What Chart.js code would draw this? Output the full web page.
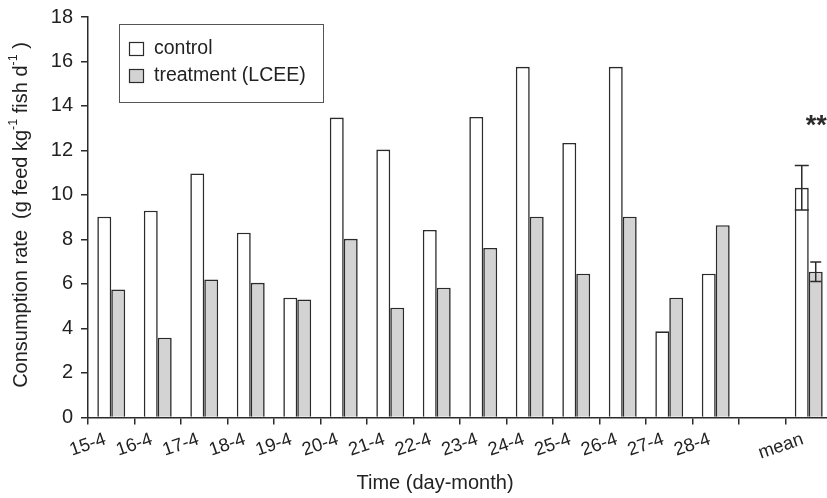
<!DOCTYPE html>
<html>
<head>
<meta charset="utf-8">
<script src="https://cdn.jsdelivr.net/npm/chart.js@4.4.1/dist/chart.umd.min.js"></script>
<style>
  html, body { margin: 0; padding: 0; background: #fff; }
  #wrap { width: 827px; height: 498px; overflow: hidden; position: relative; }
  canvas { display: block; }
</style>
</head>
<body>
<div id="wrap"><canvas id="c" width="850" height="498" style="width:850px;height:498px"></canvas></div>
<script>
// ---- data ----
const categories = ['15-4','16-4','17-4','18-4','19-4','20-4','21-4','22-4','23-4','24-4','25-4','26-4','27-4','28-4','','mean'];
const controlValues   = [9.02, 9.29, 10.97, 8.30, 5.38, 13.48, 12.04, 8.43, 13.51, 15.76, 12.34, 15.76, 3.87, 6.46, null, 10.32];
const treatmentValues = [5.75, 3.58, 6.20, 6.05, 5.30, 8.03, 4.93, 5.83, 7.62, 9.02, 6.46, 9.02, 5.38, 8.64, null, 6.55];
const controlErrors   = [null,null,null,null,null,null,null,null,null,null,null,null,null,null,null, 1.0];
const treatmentErrors = [null,null,null,null,null,null,null,null,null,null,null,null,null,null,null, 0.44];
const yTicks = [0,2,4,6,8,10,12,14,16,18];
const seriesLabels = ['control', 'treatment (LCEE)'];
const significance = '**';
const xTitle = 'Time (day-month)';
const yTitleParts = [['Consumption rate  (g feed kg', false], ['-1', true], [' fish d', false], ['-1', true], [' )', false]];

const FONT = '"Liberation Sans", Arial, Helvetica, sans-serif';
const INK = '#2b2b2b';

const errorBarPlugin = {
  id: 'errorBars',
  afterDatasetsDraw(chart) {
    const ctx = chart.ctx;
    const y = chart.scales.y;
    const errs = [controlErrors, treatmentErrors];
    ctx.save();
    ctx.strokeStyle = INK;
    ctx.lineWidth = 1.5;
    chart.data.datasets.forEach((ds, di) => {
      const meta = chart.getDatasetMeta(di);
      meta.data.forEach((bar, i) => {
        const e = errs[di][i];
        const v = ds.data[i];
        if (e == null || v == null) return;
        const x = bar.x;
        const top = y.getPixelForValue(v + e);
        const bot = y.getPixelForValue(v - e);
        const half = di === 0 ? 7 : 5.5;
        ctx.beginPath();
        ctx.moveTo(x, top); ctx.lineTo(x, bot);
        ctx.moveTo(x - half, top); ctx.lineTo(x + half, top);
        ctx.moveTo(x - half, bot); ctx.lineTo(x + half, bot);
        ctx.stroke();
      });
    });
    // significance stars above the mean group
    const meanIdx = categories.indexOf('mean');
    const xPix = chart.scales.x.getPixelForValue(meanIdx);
    ctx.fillStyle = INK;
    ctx.font = 'bold 27px ' + FONT;
    ctx.textAlign = 'left';
    ctx.textBaseline = 'alphabetic';
    ctx.fillText(significance, xPix - 3, y.getPixelForValue(13.2) + 10);
    ctx.restore();
  },
  afterDraw(chart) {
    const ctx = chart.ctx;
    ctx.save();
    // legend
    ctx.strokeStyle = '#555';
    ctx.lineWidth = 1;
    ctx.strokeRect(119.5, 24.5, 204, 78);
    ctx.font = '19.5px ' + FONT;
    ctx.textBaseline = 'middle';
    ctx.textAlign = 'left';
    chart.data.datasets.forEach((ds, i) => {
      const yy = 42 + i * 27;
      ctx.fillStyle = ds.backgroundColor;
      ctx.fillRect(129.5, yy + 0.5, 14, 13);
      ctx.strokeStyle = INK;
      ctx.lineWidth = 1.2;
      ctx.strokeRect(129.5, yy + 0.5, 14, 13);
      ctx.fillStyle = '#222';
      ctx.fillText(ds.label, 154, yy + 7);
    });
    // x title
    ctx.font = '20px ' + FONT;
    ctx.textAlign = 'center';
    ctx.fillStyle = '#222';
    ctx.fillText(xTitle, 435, 483);
    // y title with superscripts
    ctx.translate(21, 215);
    ctx.rotate(-Math.PI / 2);
    const mainFont = '20px ' + FONT, supFont = '12.5px ' + FONT;
    let total = 0;
    yTitleParts.forEach(([t, sup]) => { ctx.font = sup ? supFont : mainFont; total += ctx.measureText(t).width; });
    let xx = -total / 2;
    ctx.textAlign = 'left';
    yTitleParts.forEach(([t, sup]) => {
      ctx.font = sup ? supFont : mainFont;
      ctx.fillText(t, xx, sup ? -7 : 0);
      xx += ctx.measureText(t).width;
    });
    ctx.restore();
  }
};

new Chart(document.getElementById('c'), {
  type: 'bar',
  data: {
    labels: categories,
    datasets: [
      { label: seriesLabels[0], data: controlValues, backgroundColor: '#ffffff', borderColor: INK, borderWidth: 1.6 },
      { label: seriesLabels[1], data: treatmentValues, backgroundColor: '#d3d3d3', borderColor: INK, borderWidth: 1.6 }
    ]
  },
  options: {
    responsive: false,
    animation: false,
    devicePixelRatio: 1,
    layout: { padding: { left: 0, right: 18, top: 17, bottom: 0 } },
    datasets: { bar: { categoryPercentage: 0.6, barPercentage: 1.0 } },
    plugins: { legend: { display: false }, tooltip: { enabled: false } },
    scales: {
      x: {
        afterFit(scale) { scale.height = 80.6; scale.paddingLeft = 0; scale.paddingRight = 0; },
        grid: { display: true, drawOnChartArea: false, offset: true, tickLength: 7, color: INK, lineWidth: 1.5 },
        border: { display: true, color: INK, width: 1.5 },
        ticks: { color: '#222', font: { size: 18.5, family: FONT }, minRotation: 19, maxRotation: 19, autoSkip: false, padding: 4, labelOffset: -6 }
      },
      y: {
        min: 0, max: 18,
        afterFit(scale) { scale.width = 88; scale.paddingTop = 0; scale.paddingBottom = 0; },
        afterBuildTicks(scale) { scale.ticks = yTicks.map(v => ({ value: v })); },
        grid: { display: true, drawOnChartArea: false, tickLength: 7, color: INK, lineWidth: 1.5 },
        border: { display: true, color: INK, width: 1.5 },
        ticks: { color: '#222', font: { size: 20, family: FONT }, padding: 8 }
      }
    }
  },
  plugins: [errorBarPlugin]
});
</script>
</body>
</html>
